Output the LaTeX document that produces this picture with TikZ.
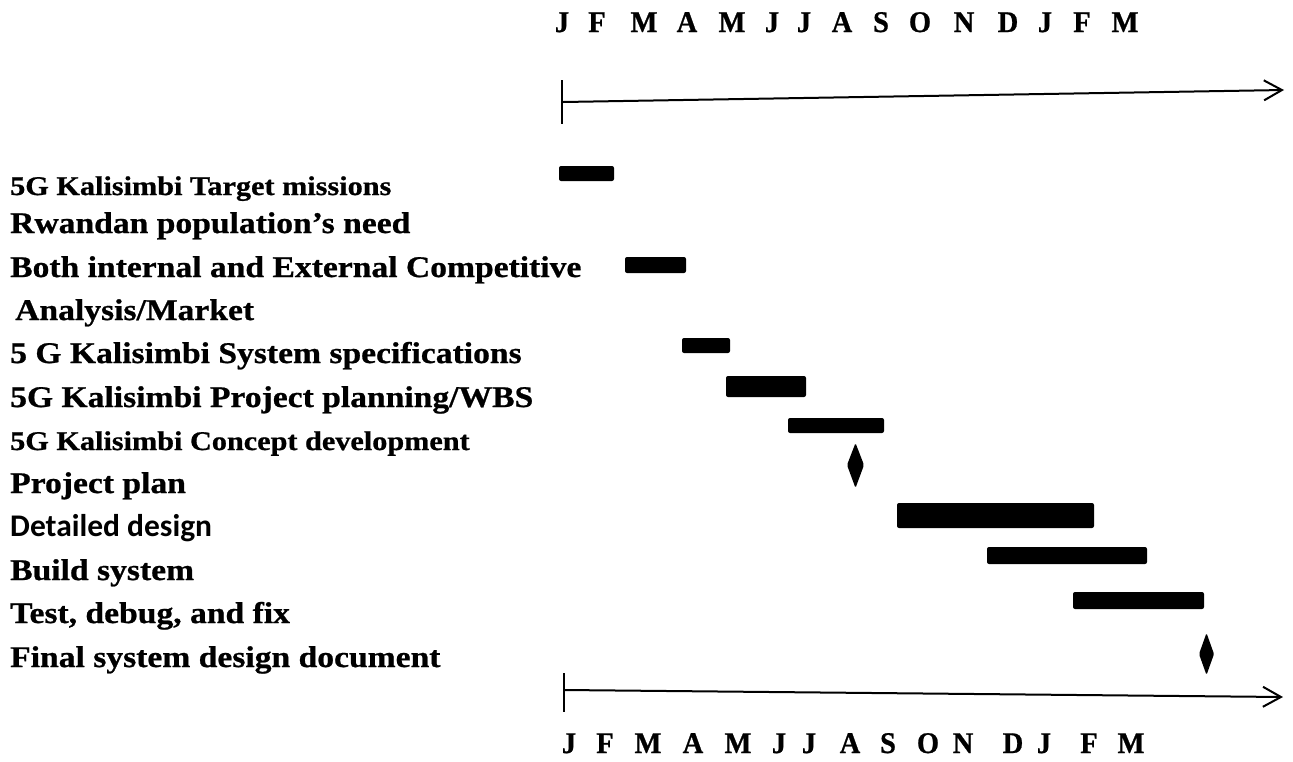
\documentclass[tikz,border=0pt]{standalone}
\usepackage{fontspec}
\setmainfont{Liberation Serif}[FakeStretch=1.12, BoldFeatures={FakeBold=0.8}]
\newfontfamily\monthfont{Liberation Serif}[FakeStretch=0.95, BoldFeatures={FakeBold=0.8}]
\newfontfamily\calibri{Carlito}
\usepackage{tikz}
\usetikzlibrary{arrows.meta}

\tikzset{
  task/.style={anchor=base west, inner sep=0pt, font=\bfseries\fontsize{30}{36}\selectfont},
  smalltask/.style={task, font=\bfseries\fontsize{27}{32}\selectfont},
  month/.style={anchor=base, inner sep=0pt, font=\monthfont\bfseries\fontsize{30}{36}\selectfont},
  bar/.style={fill=black, rounded corners=2pt},
  milestone/.style={fill=black, rounded corners=1.5pt},
  axis/.style={line width=2pt},
}

\begin{document}
\begin{tikzpicture}[x=1pt, y=-1pt]
    \useasboundingbox (0,0) rectangle (1293,761);

    % months
    \foreach \x/\m in {562/J,597/F,644/M,687/A,732/M,772/J,804/J,842/A,881/S,920/O,964/N,1008/D,1045/J,1082/F,1125/M}
        \node[month] (top\x) at (\x,32) {\m};
    \foreach \x/\m in {569/J,605/F,648/M,693/A,738/M,779/J,809/J,850/A,888/S,928/O,963/N,1013/D,1044/J,1089/F,1131/M}
        \node[month] (bot\x) at (\x,753) {\m};

    % time axes
    \coordinate (topstart) at (563,102);
    \coordinate (topend) at (1284,90);
    \coordinate (botstart) at (565,690);
    \coordinate (botend) at (1283,697);
    \draw[axis] (562,80) -- (562,124);
    \draw[axis, -{Straight Barb[length=18pt, width=20pt]}] (topstart) -- (topend);
    \draw[axis] (564,673) -- (564,712);
    \draw[axis, -{Straight Barb[length=18pt, width=20pt]}] (botstart) -- (botend);

    % tasks
    \node[smalltask] (missions) at (10,195) {5G Kalisimbi Target missions};
    \node[task] (need) at (10,233) {Rwandan population’s need};
    \node[task] (competitive) at (10,277) {Both internal and External Competitive};
    \node[task] (market) at (15,320) {Analysis/Market};
    \node[task] (specs) at (10,363) {5 G Kalisimbi System specifications};
    \node[task] (wbs) at (10,407) {5G Kalisimbi Project planning/WBS};
    \node[smalltask] (concept) at (10,450) {5G Kalisimbi Concept development};
    \node[task] (plan) at (10,493) {Project plan};
    \node[task, font=\calibri\bfseries\fontsize{31.5}{36}\selectfont] (design) at (10,536) {Detailed design};
    \node[task] (build) at (10,580) {Build system};
    \node[task] (test) at (10,623) {Test, debug, and fix};
    \node[task] (final) at (10,667) {Final system design document};

    % bars
    \fill[bar] (559,166) rectangle (614,181);
    \fill[bar] (625,257) rectangle (686,273);
    \fill[bar] (682,338) rectangle (730,353);
    \fill[bar] (726,376) rectangle (806,397);
    \fill[bar] (788,418) rectangle (884,433);
    \fill[bar] (897,503) rectangle (1094,528);
    \fill[bar] (987,547) rectangle (1147,564);
    \fill[bar] (1073,592) rectangle (1204,609);

    % milestones
    \fill[milestone] (855.5,443) -- (864,465) -- (855.5,488) -- (847,465) -- cycle;
    \fill[milestone] (1206.5,633) -- (1214,654) -- (1206.5,675) -- (1199,654) -- cycle;
\end{tikzpicture}
\end{document}
